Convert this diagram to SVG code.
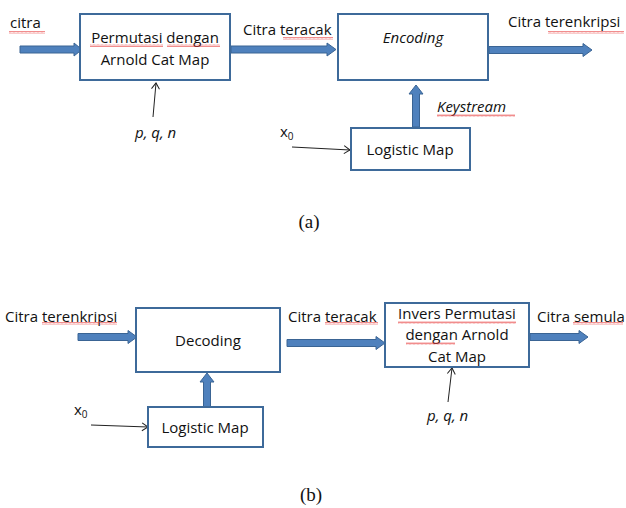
<svg xmlns="http://www.w3.org/2000/svg" width="626" height="508" viewBox="0 0 626 508">
<style>
.box{fill:#fff;stroke:#3e6a9a;stroke-width:2}
.fat{fill:#4f81bd;stroke:#3a6494;stroke-width:1}
.thin{fill:none;stroke:#222;stroke-width:1}
.wv{fill:url(#wave)}
text{font-family:"Open Sans","Liberation Sans",sans-serif;font-size:15px;fill:#111}
.c{text-anchor:middle}
.i{font-style:italic}
.cap{font-family:"Liberation Serif",serif;font-size:19px;text-anchor:middle}
</style>
<defs>
<marker id="open" markerWidth="10" markerHeight="10" refX="8" refY="5" orient="auto" markerUnits="userSpaceOnUse">
<path d="M2,1 L8,5 L2,9" fill="none" stroke="#222" stroke-width="1"/>
</marker>
<pattern id="wave" width="4" height="3" patternUnits="userSpaceOnUse">
<path d="M0,2.5 L1,0.5 L2,2.5 L3,0.5 L4,2.5" fill="none" stroke="#e84040" stroke-width="0.6"/>
</pattern>
</defs>
<g id="connectors">
<polygon class="fat" points="20,46 74,46 74,43 82,49.5 74,56 74,53 20,53"/>
<polygon class="fat" points="231,46 327,46 327,43 336,49.5 327,56 327,53 231,53"/>
<polygon class="fat" points="489,46.5 583,46.5 583,43.5 592,50 583,56.5 583,53.5 489,53.5"/>
<polygon class="fat" points="412.5,127 412.5,94 409,94 416,85 423,94 419.5,94 419.5,127"/>
<line class="thin" x1="153" y1="117" x2="156" y2="83" marker-end="url(#open)"/>
<line class="thin" x1="292" y1="147" x2="350" y2="150" marker-end="url(#open)"/>
<polygon class="fat" points="78,333.5 128,333.5 128,330.5 137,337 128,343.5 128,340.5 78,340.5"/>
<polygon class="fat" points="287,339.5 376,339.5 376,336.5 385,343 376,349.5 376,346.5 287,346.5"/>
<polygon class="fat" points="530,333.5 579,333.5 579,330.5 588,337 579,343.5 579,340.5 530,340.5"/>
<polygon class="fat" points="203.5,407 203.5,382 200,382 207,373 214,382 210.5,382 210.5,407"/>
<line class="thin" x1="91" y1="425" x2="148" y2="427" marker-end="url(#open)"/>
<line class="thin" x1="448" y1="402" x2="452" y2="368" marker-end="url(#open)"/>
</g>
<g id="permutasi">
<rect class="box" x="80" y="14" width="150" height="66"/>
<text class="c" x="155" y="43">Permutasi dengan</text>
<text class="c" x="155" y="65">Arnold Cat Map</text>
</g>
<g id="encoding">
<rect class="box" x="338" y="14" width="150" height="66"/>
<text class="c i" x="413" y="43">Encoding</text>
</g>
<g id="logistic1">
<rect class="box" x="351" y="128" width="119" height="42"/>
<text class="c" x="410" y="155">Logistic Map</text>
</g>
<g id="decoding">
<rect class="box" x="136" y="308" width="144" height="64"/>
<text class="c" x="208" y="346">Decoding</text>
</g>
<g id="logistic2">
<rect class="box" x="148" y="407" width="115" height="40"/>
<text class="c" x="205" y="433">Logistic Map</text>
</g>
<g id="invers">
<rect class="box" x="385" y="303" width="144" height="64"/>
<text class="c" x="457" y="319">Invers Permutasi</text>
<text class="c" x="457" y="340">dengan Arnold</text>
<text class="c" x="457" y="362">Cat Map</text>
</g>
<g id="labels">
<text x="10" y="28">citra</text>
<text x="243" y="35">Citra teracak</text>
<text x="508" y="27">Citra terenkripsi</text>
<text class="i" x="437" y="112">Keystream</text>
<text class="i" x="135" y="138">p, q, n</text>
<text x="280" y="137">x<tspan font-size="10" dy="3">0</tspan></text>
<text class="cap" x="309" y="228">(a)</text>
<text x="5" y="322">Citra terenkripsi</text>
<text x="288" y="322">Citra teracak</text>
<text x="537" y="322">Citra semula</text>
<text class="i" x="427" y="421">p, q, n</text>
<text x="74" y="415">x<tspan font-size="10" dy="3">0</tspan></text>
<text class="cap" x="311" y="501">(b)</text>
</g>
<g id="spellcheck">
<rect class="wv" x="9" y="31" width="36" height="3"/>
<rect class="wv" x="90" y="44" width="73" height="3"/>
<rect class="wv" x="167" y="44" width="53" height="3"/>
<rect class="wv" x="283" y="37" width="50" height="3"/>
<rect class="wv" x="548" y="31" width="76" height="3"/>
<rect class="wv" x="437" y="114" width="78" height="3"/>
<rect class="wv" x="42" y="322" width="75" height="3"/>
<rect class="wv" x="325" y="322" width="53" height="3"/>
<rect class="wv" x="398" y="321" width="118" height="3"/>
<rect class="wv" x="406" y="342" width="49" height="3"/>
<rect class="wv" x="573" y="322" width="50" height="3"/>
</g>
</svg>
